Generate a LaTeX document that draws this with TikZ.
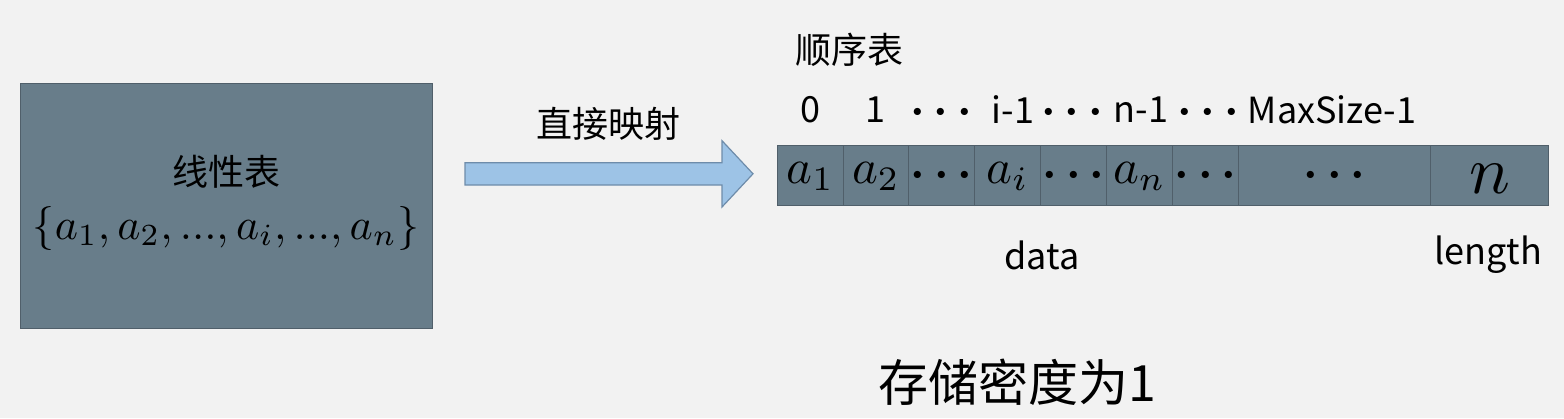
\documentclass[tikz,border=0pt]{standalone}
\usepackage{graphicx}
\usepackage{fontspec}
\setmainfont{Noto Sans CJK SC}
\newcommand{\mymath}[2][4.4]{\scalebox{#1}{$#2$}}
\newcommand{\mydots}[1][4.4]{\scalebox{#1}{\boldmath$\cdots$}}
\definecolor{bgc}{HTML}{F2F2F2}
\definecolor{boxfill}{HTML}{687D8A}
\definecolor{boxline}{HTML}{505F6A}
\definecolor{arrfill}{HTML}{9DC3E6}
\definecolor{arrline}{HTML}{6E8CAA}
\tikzset{
  lbl/.style={inner sep=0pt, font=\fontsize{36}{40}\selectfont},
  mathlbl/.style={inner sep=0pt},
  bigbox/.style={draw=boxline, line width=1.2pt, fill=boxfill, inner sep=0pt},
  cell/.style={draw=boxline, line width=1pt, fill=boxfill, inner sep=0pt, anchor=north west},
  blockarrow/.style={draw=arrline, line width=1.2pt, fill=arrfill, line join=miter}
}
\begin{document}
\begin{tikzpicture}[x=1pt,y=-1pt]
\fill[bgc] (0,0) rectangle (1564,418);
\useasboundingbox (0,0) rectangle (1564,418);

% left box
\node[bigbox, minimum width=412pt, minimum height=245pt, anchor=north west] (lin) at (20,83) {};
\node[lbl] (lintitle) at (226,172) {线性表};
\node[mathlbl] (linset) at (226,228) {\mymath{\{a_1,a_2,...,a_i,...,a_n\}}};

% block arrow
\coordinate (a1) at (465,162.7);
\coordinate (a2) at (722,162.7);
\coordinate (a3) at (722,140.7);
\coordinate (a4) at (753,173.8);
\coordinate (a5) at (722,207);
\coordinate (a6) at (722,185);
\coordinate (a7) at (465,185);
\draw[blockarrow] (a1) -- (a2) -- (a3) -- (a4) -- (a5) -- (a6) -- (a7) -- cycle;
\node[lbl] (map) at (608,124) {直接映射};

% sequence list
\node[lbl, anchor=west] (seq) at (795,50) {顺序表};

\foreach \i/\xa/\xb in {1/777/843, 2/843/908, 3/908/974, 4/974/1040, 5/1040/1106, 6/1106/1172, 7/1172/1238, 8/1238/1430, 9/1430/1548}{
  \pgfmathsetmacro{\w}{\xb-\xa}
  \node[cell, minimum width=\w pt, minimum height=60pt] (c\i) at (\xa,145) {};
}
\node[mathlbl] at ([yshift=-1pt]c1.center) {\mymath[4.9]{a_1}};
\node[mathlbl] at ([yshift=-1pt]c2.center) {\mymath[4.9]{a_2}};
\node[mathlbl] at (c3) {\mydots[4.6]};
\node[mathlbl] at ([yshift=-1pt]c4.center) {\mymath[4.9]{a_i}};
\node[mathlbl] at (c5) {\mydots[4.6]};
\node[mathlbl] at ([yshift=-1pt]c6.center) {\mymath[4.9]{a_n}};
\node[mathlbl] at (c7) {\mydots[4.6]};
\node[mathlbl] at (c8) {\mydots[4.6]};
\node[mathlbl] at ([yshift=-3pt]c9.center) {\mymath[6.8]{n}};

% indices
\node[lbl] (i0) at (810,110) {0};
\node[lbl] (i1) at (875,110) {1};
\node[mathlbl] (i2) at (941,113) {\mydots[4.6]};
\node[lbl] (i3) at (1013,110) {i-1};
\node[mathlbl] (i4) at (1072,113) {\mydots[4.6]};
\node[lbl] (i5) at (1141,110) {n-1};
\node[mathlbl] (i6) at (1208,113) {\mydots[4.6]};
\node[lbl] (i7) at (1332,110) {MaxSize-1};

% field names
\node[lbl] (data) at (1042,255) {data};
\node[lbl] (len) at (1488,255) {length};

% density
\node[inner sep=0pt, font=\fontsize{50}{54}\selectfont] (dens) at (1017,382) {存储密度为1};
\end{tikzpicture}
\end{document}
